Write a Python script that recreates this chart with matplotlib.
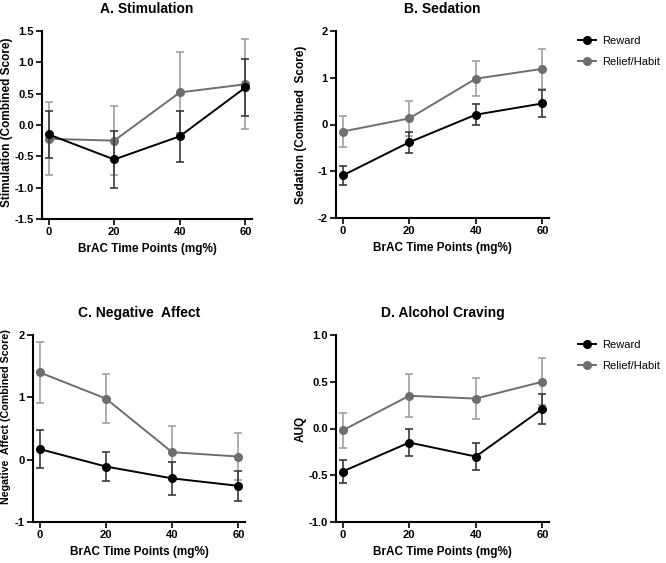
import matplotlib
matplotlib.use("Agg")
import matplotlib.pyplot as plt
from matplotlib.lines import Line2D

plt.rcParams['font.family'] = ['Liberation Sans', 'DejaVu Sans']

x = [0, 20, 40, 60]

# A. Stimulation
stim_reward = [-0.15, -0.55, -0.18, 0.60]
stim_reward_err = [0.37, 0.45, 0.41, 0.45]
stim_relief = [-0.22, -0.25, 0.52, 0.65]
stim_relief_err = [0.58, 0.55, 0.65, 0.72]

# B. Sedation
sed_reward = [-1.09, -0.38, 0.21, 0.45]
sed_reward_err = [0.21, 0.23, 0.23, 0.28]
sed_relief = [-0.15, 0.13, 0.98, 1.19]
sed_relief_err = [0.33, 0.37, 0.38, 0.42]

# C. Negative Affect
neg_reward = [0.17, -0.11, -0.30, -0.42]
neg_reward_err = [0.31, 0.24, 0.26, 0.24]
neg_relief = [1.40, 0.98, 0.12, 0.05]
neg_relief_err = [0.49, 0.39, 0.42, 0.38]

# D. Alcohol Craving
crav_reward = [-0.46, -0.15, -0.30, 0.21]
crav_reward_err = [0.12, 0.14, 0.14, 0.16]
crav_relief = [-0.02, 0.35, 0.32, 0.50]
crav_relief_err = [0.19, 0.23, 0.22, 0.25]

W, H = 666, 563
fig = plt.figure(figsize=(W / 100, H / 100), dpi=100)

REWARD = '#000000'
RELIEF = '#6e6e6e'
RELIEF_ERR = '#a0a0a0'
REWARD_ERR = '#3a3a3a'
MS = 5.5


def make_ax(left, top, right, bottom):
    return fig.add_axes([left / W, 1 - bottom / H, (right - left) / W, (bottom - top) / H])


def panel(ax, title, ylabel, reward, reward_err, relief, relief_err, ylim, yticks, fmt,
          ylab_x, ylab_y=0.5, ylab_size=8.5, legend=False):
    ax.errorbar(x, relief, yerr=relief_err, color=RELIEF, ecolor=RELIEF_ERR, elinewidth=1.2,
                capsize=3, capthick=1.2, marker='o', markersize=MS, linewidth=1.4, zorder=2)
    ax.errorbar(x, reward, yerr=reward_err, color=REWARD, ecolor=REWARD_ERR, elinewidth=1.2,
                capsize=3, capthick=1.2, marker='o', markersize=MS, linewidth=1.4, zorder=3)
    ax.set_xlim(-2, 62)
    ax.set_ylim(*ylim)
    ax.set_xticks(x)
    ax.set_yticks(yticks)
    ax.set_yticklabels([fmt.format(t) for t in yticks])
    for s in ['top', 'right']:
        ax.spines[s].set_visible(False)
    for s in ['left', 'bottom']:
        ax.spines[s].set_linewidth(1.5)
    ax.tick_params(width=1.2, length=4, labelsize=8, pad=2)
    for lab in ax.get_xticklabels() + ax.get_yticklabels():
        lab.set_fontweight('bold')
    ax.set_title(title, fontsize=10, fontweight='bold', pad=13)
    ax.set_xlabel('BrAC Time Points (mg%)', fontsize=8.5, fontweight='bold', labelpad=4)
    ax.set_ylabel(ylabel, fontsize=ylab_size, fontweight='bold')
    # right edge of the rotated label, in axes fraction
    ax.yaxis.set_label_coords(ylab_x, ylab_y)
    if legend:
        handles = [Line2D([], [], color=REWARD, marker='o', markersize=MS, linewidth=1.4),
                   Line2D([], [], color=RELIEF, marker='o', markersize=MS, linewidth=1.4)]
        ax.legend(handles, ['Reward', 'Relief/Habit'], loc='upper left', bbox_to_anchor=(1.09, 1.025),
                  frameon=False, fontsize=8, handlelength=1.6, handletextpad=0.6, labelspacing=0.95)


axA = make_ax(42, 31, 252, 219)
panel(axA, 'A. Stimulation', 'Stimulation (Combined Score)', stim_reward, stim_reward_err,
      stim_relief, stim_relief_err, (-1.5, 1.5), [-1.5, -1.0, -0.5, 0.0, 0.5, 1.0, 1.5], '{:.1f}',
      ylab_x=(13 - 42) / 210, ylab_y=0.515)

axB = make_ax(336, 31, 549, 218)
panel(axB, 'B. Sedation', 'Sedation (Combined  Score)', sed_reward, sed_reward_err,
      sed_relief, sed_relief_err, (-2, 2), [-2, -1, 0, 1, 2], '{:d}',
      ylab_x=(307 - 336) / 213, legend=True)

axC = make_ax(33, 335, 245, 522)
panel(axC, 'C. Negative  Affect', 'Negative  Affect (Combined Score)', neg_reward, neg_reward_err,
      neg_relief, neg_relief_err, (-1, 2), [-1, 0, 1, 2], '{:d}',
      ylab_x=(11 - 33) / 212, ylab_y=0.565, ylab_size=7.7)

axD = make_ax(336, 335, 549, 522)
panel(axD, 'D. Alcohol Craving', 'AUQ', crav_reward, crav_reward_err,
      crav_relief, crav_relief_err, (-1.0, 1.0), [-1.0, -0.5, 0.0, 0.5, 1.0], '{:.1f}',
      ylab_x=(307 - 336) / 213, legend=True)

fig.savefig('out.png', dpi=100)
